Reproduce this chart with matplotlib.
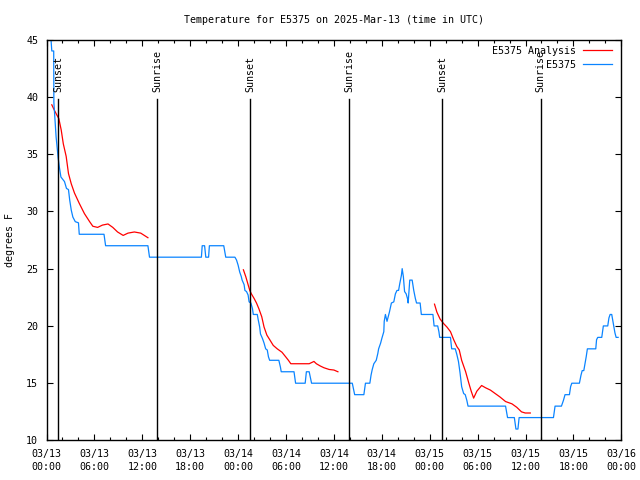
import numpy as np
import pandas as pd
import matplotlib
matplotlib.use("Agg")
import matplotlib.pyplot as plt
import matplotlib.dates as mdates

plt.rcParams["font.family"] = ["DejaVu Sans Mono"]
plt.rcParams["font.size"] = 7.2

start = pd.Timestamp("2025-03-13 00:00")

# station readings (hours after 03/13 00:00 UTC, deg F)
obs_hours = [0.375, 0.56, 0.66, 0.8, 0.9, 0.92, 1.1, 1.2, 1.45, 1.6, 1.8, 2.25, 2.5, 2.75,
             2.9, 3.1, 3.3, 3.6, 4.0, 4.1, 7.2, 7.4, 12.7, 12.9, 19.4, 19.5, 19.8, 19.95,
             20.3, 20.4, 22.2, 22.45, 23.6, 23.8, 24.0, 24.2, 24.4, 24.5, 24.75, 24.85,
             25.05, 25.25, 25.375, 25.6, 25.8, 25.9, 26.4, 26.5, 26.7, 26.8, 27.05, 27.25,
             27.45, 27.65, 27.8, 27.95, 29.1, 29.3, 29.4, 31.0, 31.2, 32.4, 32.55, 32.9,
             33.2, 38.3, 38.6, 39.75, 39.95, 40.5, 40.65, 40.8, 41.0, 41.3, 41.5, 41.6,
             41.85, 42.0, 42.25, 42.3, 42.45, 42.65, 42.8, 42.95, 43.2, 43.5, 43.7, 43.9,
             44.1, 44.25, 44.45, 44.55, 44.7, 44.85, 45.05, 45.25, 45.3, 45.5, 45.8, 46.0,
             46.2, 46.35, 46.8, 46.95, 48.4, 48.55, 49.0, 49.15, 49.25, 50.6, 50.75, 51.2,
             51.4, 51.6, 51.8, 52.0, 52.25, 52.45, 52.65, 52.8, 57.5, 57.75, 58.6, 58.8,
             59.05, 59.2, 63.5, 63.7, 64.5, 64.75, 64.95, 65.5, 65.65, 65.8, 66.75, 66.95,
             67.1, 67.3, 67.45, 67.6, 67.75, 68.8, 68.9, 69.05, 69.55, 69.75, 70.3, 70.45,
             70.6, 70.8, 71.0, 71.2, 71.35, 71.6]
obs_temp = [45, 45, 44, 44, 44, 39.5, 37.5, 36.5, 34.7, 33.9, 33, 32.6, 32, 31.9,
            31, 30.1, 29.5, 29.1, 29, 28, 28, 27, 27, 26, 26, 27, 27, 26,
            26, 27, 27, 26, 26, 25.75, 25.3, 24.7, 24.3, 24, 23.6, 23.1,
            23, 22.7, 22.1, 22, 21.5, 21, 21, 20.6, 19.9, 19.3, 18.9, 18.5,
            18, 17.9, 17.3, 17, 17, 16.4, 16, 16, 15, 15, 16, 16,
            15, 15, 14, 14, 15, 15, 15.7, 16.2, 16.7, 17, 17.6, 18,
            18.5, 18.9, 19.5, 20.4, 21, 20.4, 20.8, 21.2, 22, 22.1, 22.8, 23.1,
            23.1, 23.7, 24.4, 25, 24.3, 23, 22.8, 22.3, 22, 24, 24, 23.1,
            22.4, 22, 22, 21, 21, 20, 20, 19.5, 19, 19, 18, 18,
            17.5, 16.9, 15.9, 14.7, 14.1, 14, 13.5, 13, 13, 12, 12, 11,
            11, 12, 12, 13, 13, 13.5, 14, 14, 14.7, 15, 15, 15.7,
            16.1, 16.1, 16.7, 17.3, 18, 18, 18.8, 19, 19, 20, 20, 20.7,
            21, 21, 20.2, 19.4, 19, 19]

# analysis runs, separated by gaps (nan)
ana_hours = [0.66, 1.0, 1.3, 1.54, 1.84, 2.1, 2.46, 2.75, 3.1, 3.5, 4.1, 4.75, 5.4, 5.8,
             6.4, 7.0, 7.7, 8.3, 8.9, 9.6, 10.2, 11.0, 11.8, 12.7, np.nan,
             24.66, 24.96, 25.25, 25.46, 25.66, 26.0, 26.3, 26.6, 26.96, 27.25, 27.6,
             27.96, 28.4, 28.9, 29.5, 29.96, 30.3, 30.6, 32.9, 33.5, 33.8, 34.3, 34.75,
             35.4, 36.0, 36.5, np.nan,
             48.6, 48.9, 49.3, 49.75, 50.16, 50.6, 51.0, 51.4, 51.7, 52.0, 52.5, 52.9,
             53.2, 53.5, 53.9, 54.5, 55.0, 55.6, 56.2, 56.8, 57.5, 58.3, 58.9, 59.5,
             59.96, 60.6]
ana_temp = [39.3, 38.8, 38.4, 38.1, 37.1, 35.9, 34.8, 33.3, 32.4, 31.6, 30.7, 29.8, 29.1, 28.7,
            28.6, 28.8, 28.9, 28.6, 28.2, 27.9, 28.1, 28.2, 28.1, 27.7, np.nan,
            24.9, 24.3, 23.6, 23.1, 22.8, 22.4, 22.0, 21.5, 20.8, 19.9, 19.2,
            18.8, 18.3, 18.0, 17.7, 17.3, 17.0, 16.7, 16.7, 16.9, 16.7, 16.5, 16.35,
            16.2, 16.15, 16.0, np.nan,
            21.9, 21.2, 20.6, 20.2, 19.9, 19.5, 18.8, 18.2, 17.9, 17.0, 16.0, 15.0,
            14.3, 13.7, 14.3, 14.8, 14.6, 14.4, 14.1, 13.8, 13.4, 13.2, 12.9, 12.5,
            12.4, 12.4]

sun_hours = [1.48, 13.88, 25.54, 37.94, 49.6, 61.88]
sun_names = ["Sunset", "Sunrise", "Sunset", "Sunrise", "Sunset", "Sunrise"]


def to_time(hours):
    return start + pd.to_timedelta(np.asarray(hours, dtype=float), unit="h")


fig = plt.figure(figsize=(6.4, 4.8), dpi=100)
ax = fig.add_axes([0.0727, 0.0823, 0.8981, 0.8354])

ax.plot(to_time(ana_hours), ana_temp, color="#ff0000", lw=0.9, label="E5375 Analysis")
ax.plot(to_time(obs_hours), obs_temp, color="#0a84ff", lw=0.9, label="E5375")

for h, name in zip(sun_hours, sun_names):
    t = to_time([h])[0]
    ax.axvline(t, ymin=0, ymax=0.852, color="k", lw=1.0)
    ax.text(t, 0.869, name, transform=ax.get_xaxis_transform(), rotation=90,
            ha="center", va="bottom", fontsize=7.2)

ax.set_xlim(start, start + pd.Timedelta(hours=72))
ax.set_ylim(10, 45)
ax.set_yticks(range(10, 46, 5))
ax.xaxis.set_major_locator(mdates.HourLocator(byhour=range(0, 24, 6)))
ax.xaxis.set_minor_locator(mdates.HourLocator(byhour=range(0, 24, 2)))
ax.xaxis.set_major_formatter(mdates.DateFormatter("%m/%d\n%H:%M"))
for lab in ax.get_xticklabels():
    lab.set_linespacing(1.35)
ax.tick_params(which="major", direction="in", length=4.5, width=0.8, top=True, right=True, pad=6)
ax.tick_params(which="minor", direction="in", length=2.2, width=0.8, top=True, right=True)
ax.tick_params(axis="y", which="minor", left=False, right=False)
for sp in ax.spines.values():
    sp.set_linewidth(1.0)

ax.set_ylabel("degrees F", labelpad=8)
ax.set_title("Temperature for E5375 on 2025-Mar-13 (time in UTC)", fontsize=7.2, pad=12)

ax.legend(loc="upper right", bbox_to_anchor=(0.994, 1.0), frameon=False, markerfirst=False,
          handlelength=2.9, handletextpad=0.7, labelspacing=0.4, borderaxespad=0.2,
          borderpad=0.4)

fig.savefig("out.png", dpi=100)
